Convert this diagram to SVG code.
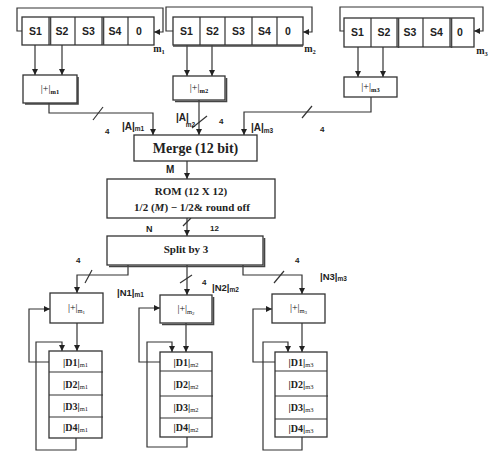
<svg xmlns="http://www.w3.org/2000/svg" width="489" height="457" viewBox="0 0 489 457">
<defs>
<marker id="ah" viewBox="0 0 8 8" refX="8" refY="4" markerWidth="6" markerHeight="6" orient="auto" markerUnits="userSpaceOnUse">
<path d="M0,0 L8,4 L0,8 z" fill="#222"/>
</marker>
<style>
.box{fill:#fff;stroke:#333;stroke-width:1.3}
.sh{fill:none;stroke:#444;stroke-width:1.6}
.ln{fill:none;stroke:#333;stroke-width:1.2}
.ar{fill:none;stroke:#333;stroke-width:1.2;marker-end:url(#ah)}
.cell{font-family:"Liberation Sans",Arial,sans-serif;font-weight:bold;font-size:10.5px;fill:#222;text-anchor:middle}
.ser{font-family:"Liberation Serif","Times New Roman",serif;font-weight:bold;fill:#222;text-anchor:middle}
.add{font-family:"Liberation Serif","Times New Roman",serif;font-size:10px;fill:#111;text-anchor:middle}
.lab{font-family:"Liberation Sans",Arial,sans-serif;font-weight:bold;fill:#222}
.sub{font-size:6.5px}
</style>
</defs>
<rect x="0" y="0" width="489" height="457" fill="#fff"/>

<g id="connectors">
<path class="ar" d="M22,31 H17 V8 H163 V32 H154"/>
<path class="ar" d="M173,31 H166 V7 H312 V32 H303"/>
<path class="ar" d="M344,31 H340 V7 H483 V31 H474"/>
<path class="ar" d="M35,45 V75"/>
<path class="ar" d="M62,45 V75"/>
<path class="ar" d="M187,45 V76"/>
<path class="ar" d="M212,45 V76"/>
<path class="ar" d="M358,47 V77"/>
<path class="ar" d="M383,47 V77"/>
<path class="ar" d="M49,103 V113 H153 V135"/>
<path class="ln" d="M93,120 L103,107"/>
<path class="ar" d="M199,100 V135"/>
<path class="ln" d="M192,128 L207,116"/>
<path class="ar" d="M371,97 V112 H244 V135"/>
<path class="ln" d="M302,118 L312,106"/>
<path class="ar" d="M187,161 V179"/>
<path class="ar" d="M187,218 V236"/>
<path class="ln" d="M183,226 L191,218"/>
<path class="ar" d="M128,265 V275 H77 V293"/>
<path class="ln" d="M85,283 L92,270"/>
<path class="ar" d="M187,265 V295"/>
<path class="ln" d="M180,283 L192,275"/>
<path class="ar" d="M243,265 V275 H302 V294"/>
<path class="ln" d="M274,283 L284,271"/>
<path class="ar" d="M77,323 V351"/>
<path class="ar" d="M49,362 H29 V309 H50"/>
<path class="ar" d="M76,438 V450 H36 V342 H62 V351"/>
<path class="ar" d="M186,323 V352"/>
<path class="ar" d="M160,362 H139 V308 H160"/>
<path class="ar" d="M187,437 V447 H147 V342 H172 V352"/>
<path class="ar" d="M302,323 V352"/>
<path class="ar" d="M275,362 H253 V309 H272"/>
<path class="ar" d="M302,437 V450 H263 V342 H288 V352"/>
</g>

<g id="reg1">
<rect class="box" x="22" y="17" width="132" height="28"/>
<path class="ln" d="M49,17 V45 M75,17 V45 M102,17 V45 M128,17 V45"/>
<path class="sh" d="M50.5,17 V45 M103.5,17 V45"/>
<text class="cell" x="35.5" y="35">S1</text>
<text class="cell" x="62" y="35">S2</text>
<text class="cell" x="88.5" y="35">S3</text>
<text class="cell" x="115" y="35">S4</text>
<text class="cell" x="139" y="35">0</text>
<text class="ser" x="159" y="52" font-size="10">m<tspan class="sub" dy="2">1</tspan></text>
</g>

<g id="reg2">
<rect class="box" x="173" y="17" width="130" height="28"/>
<path class="ln" d="M200,17 V45 M225,17 V45 M252,17 V45 M277,17 V45"/>
<path class="sh" d="M173,46 H303"/>
<text class="cell" x="186.5" y="35">S1</text>
<text class="cell" x="212.5" y="35">S2</text>
<text class="cell" x="238.5" y="35">S3</text>
<text class="cell" x="264.5" y="35">S4</text>
<text class="cell" x="288" y="35">0</text>
<text class="ser" x="310" y="52" font-size="10">m<tspan class="sub" dy="2">2</tspan></text>
</g>

<g id="reg3">
<rect class="box" x="344" y="18" width="130" height="29"/>
<path class="ln" d="M371,18 V47 M397,18 V47 M423,18 V47 M450,18 V47"/>
<path class="sh" d="M398.5,18 V48 M451.5,18 V48"/>
<text class="cell" x="357.5" y="36">S1</text>
<text class="cell" x="384" y="36">S2</text>
<text class="cell" x="410" y="36">S3</text>
<text class="cell" x="436.5" y="36">S4</text>
<text class="cell" x="460" y="36">0</text>
<text class="ser" x="482" y="54" font-size="10">m<tspan class="sub" dy="2">3</tspan></text>
</g>

<g id="adder1">
<path class="sh" d="M25,104 H78 V77"/>
<rect class="box" x="23" y="75" width="54" height="28"/>
<text class="add" x="50" y="92">|+|<tspan class="sub" font-weight="bold" dy="2">m1</tspan></text>
</g>
<g id="adder2">
<path class="sh" d="M175,101.5 H226.5 V78"/>
<rect class="box" x="173" y="76" width="52" height="24"/>
<text class="add" x="199" y="91">|+|<tspan class="sub" font-weight="bold" dy="2">m2</tspan></text>
</g>
<g id="adder3">
<rect class="box" x="344" y="77" width="53" height="20"/>
<text class="add" x="370.5" y="90">|+|<tspan class="sub" font-weight="bold" dy="2">m3</tspan></text>
</g>

<g id="labels-a">
<text class="lab" x="122" y="130" font-size="10">|A|<tspan class="sub" dy="1">m1</tspan></text>
<text class="lab" x="105" y="134" font-size="8">4</text>
<text class="lab" x="176" y="121" font-size="10">|A|<tspan class="sub" dy="6" dx="-3">m2</tspan></text>
<text class="lab" x="219" y="124" font-size="8">4</text>
<text class="lab" x="251" y="131" font-size="10">|A|<tspan class="sub" dy="2">m3</tspan></text>
<text class="lab" x="320" y="132" font-size="8">4</text>
</g>

<g id="merge">
<rect class="box" x="134" y="135" width="123" height="26"/>
<text class="ser" x="195.5" y="153" font-size="14">Merge (12 bit)</text>
</g>
<text class="lab" x="166" y="173" font-size="10">M</text>

<g id="rom">
<rect class="box" x="107" y="179" width="168" height="39"/>
<text class="ser" x="191" y="195" font-size="11">ROM (12 X 12)</text>
<text class="ser" x="192" y="211" font-size="11">1/2 (<tspan font-style="italic">M</tspan>) − 1/2&amp; round off</text>
</g>
<text class="lab" x="146" y="232" font-size="9">N</text>
<text class="lab" x="210" y="231" font-size="8">12</text>

<g id="split">
<path class="sh" d="M109,266.5 H264.5 V238"/>
<rect class="box" x="107" y="236" width="156" height="29"/>
<text class="ser" x="186" y="253" font-size="11">Split by 3</text>
</g>

<g id="labels-n">
<text class="lab" x="76" y="263" font-size="8">4</text>
<text class="lab" x="117" y="296" font-size="9.5">|N1|<tspan class="sub" dy="1">m1</tspan></text>
<text class="lab" x="202" y="285" font-size="8">4</text>
<text class="lab" x="212" y="291" font-size="9.5">|N2|<tspan class="sub" dy="1">m2</tspan></text>
<text class="lab" x="295" y="263" font-size="8">4</text>
<text class="lab" x="320" y="280" font-size="9.5">|N3|<tspan class="sub" dy="1">m3</tspan></text>
</g>

<g id="adder-m1">
<rect class="box" x="50" y="293" width="53" height="30"/>
<text class="add" x="76.5" y="311">|+|<tspan class="sub" dy="2">m</tspan><tspan font-size="5" dy="1">1</tspan></text>
</g>
<g id="adder-m2">
<path class="sh" d="M162,324.5 H213.5 V297"/>
<rect class="box" x="160" y="295" width="52" height="28"/>
<text class="add" x="186" y="312">|+|<tspan class="sub" dy="2">m</tspan><tspan font-size="5" dy="1">2</tspan></text>
</g>
<g id="adder-m3">
<rect class="box" x="272" y="294" width="53" height="29"/>
<text class="add" x="298.5" y="311">|+|<tspan class="sub" dy="2">m</tspan><tspan font-size="5" dy="1">3</tspan></text>
</g>

<g id="dreg1">
<rect class="box" x="49" y="351" width="53" height="87"/>
<path class="ln" d="M49,372 H103 M49,395 H103 M49,417 H103"/>
<text class="ser" x="75.5" y="366" font-size="10">|D1|<tspan class="sub" font-weight="normal" dy="1">m1</tspan></text>
<text class="ser" x="75.5" y="388" font-size="10">|D2|<tspan class="sub" font-weight="normal" dy="1">m1</tspan></text>
<text class="ser" x="75.5" y="410" font-size="10">|D3|<tspan class="sub" font-weight="normal" dy="1">m1</tspan></text>
<text class="ser" x="75.5" y="431" font-size="10">|D4|<tspan class="sub" font-weight="normal" dy="1">m1</tspan></text>
</g>
<g id="dreg2">
<rect class="box" x="160" y="352" width="52" height="85"/>
<path class="ln" d="M160,371 H212 M160,396 H213 M160,418 H212"/>
<text class="ser" x="186" y="366" font-size="10">|D1|<tspan class="sub" font-weight="normal" dy="1">m2</tspan></text>
<text class="ser" x="186" y="388" font-size="10">|D2|<tspan class="sub" font-weight="normal" dy="1">m2</tspan></text>
<text class="ser" x="186" y="411" font-size="10">|D3|<tspan class="sub" font-weight="normal" dy="1">m2</tspan></text>
<text class="ser" x="186" y="431" font-size="10">|D4|<tspan class="sub" font-weight="normal" dy="1">m2</tspan></text>
</g>
<g id="dreg3">
<rect class="box" x="275" y="352" width="52" height="85"/>
<path class="ln" d="M275,371 H327 M275,396 H328 M275,419 H327"/>
<text class="ser" x="301" y="366" font-size="10">|D1|<tspan class="sub" font-weight="normal" dy="1">m3</tspan></text>
<text class="ser" x="301" y="388" font-size="10">|D2|<tspan class="sub" font-weight="normal" dy="1">m3</tspan></text>
<text class="ser" x="301" y="411" font-size="10">|D3|<tspan class="sub" font-weight="normal" dy="1">m3</tspan></text>
<text class="ser" x="301" y="432" font-size="10">|D4|<tspan class="sub" font-weight="normal" dy="1">m3</tspan></text>
</g>
</svg>
